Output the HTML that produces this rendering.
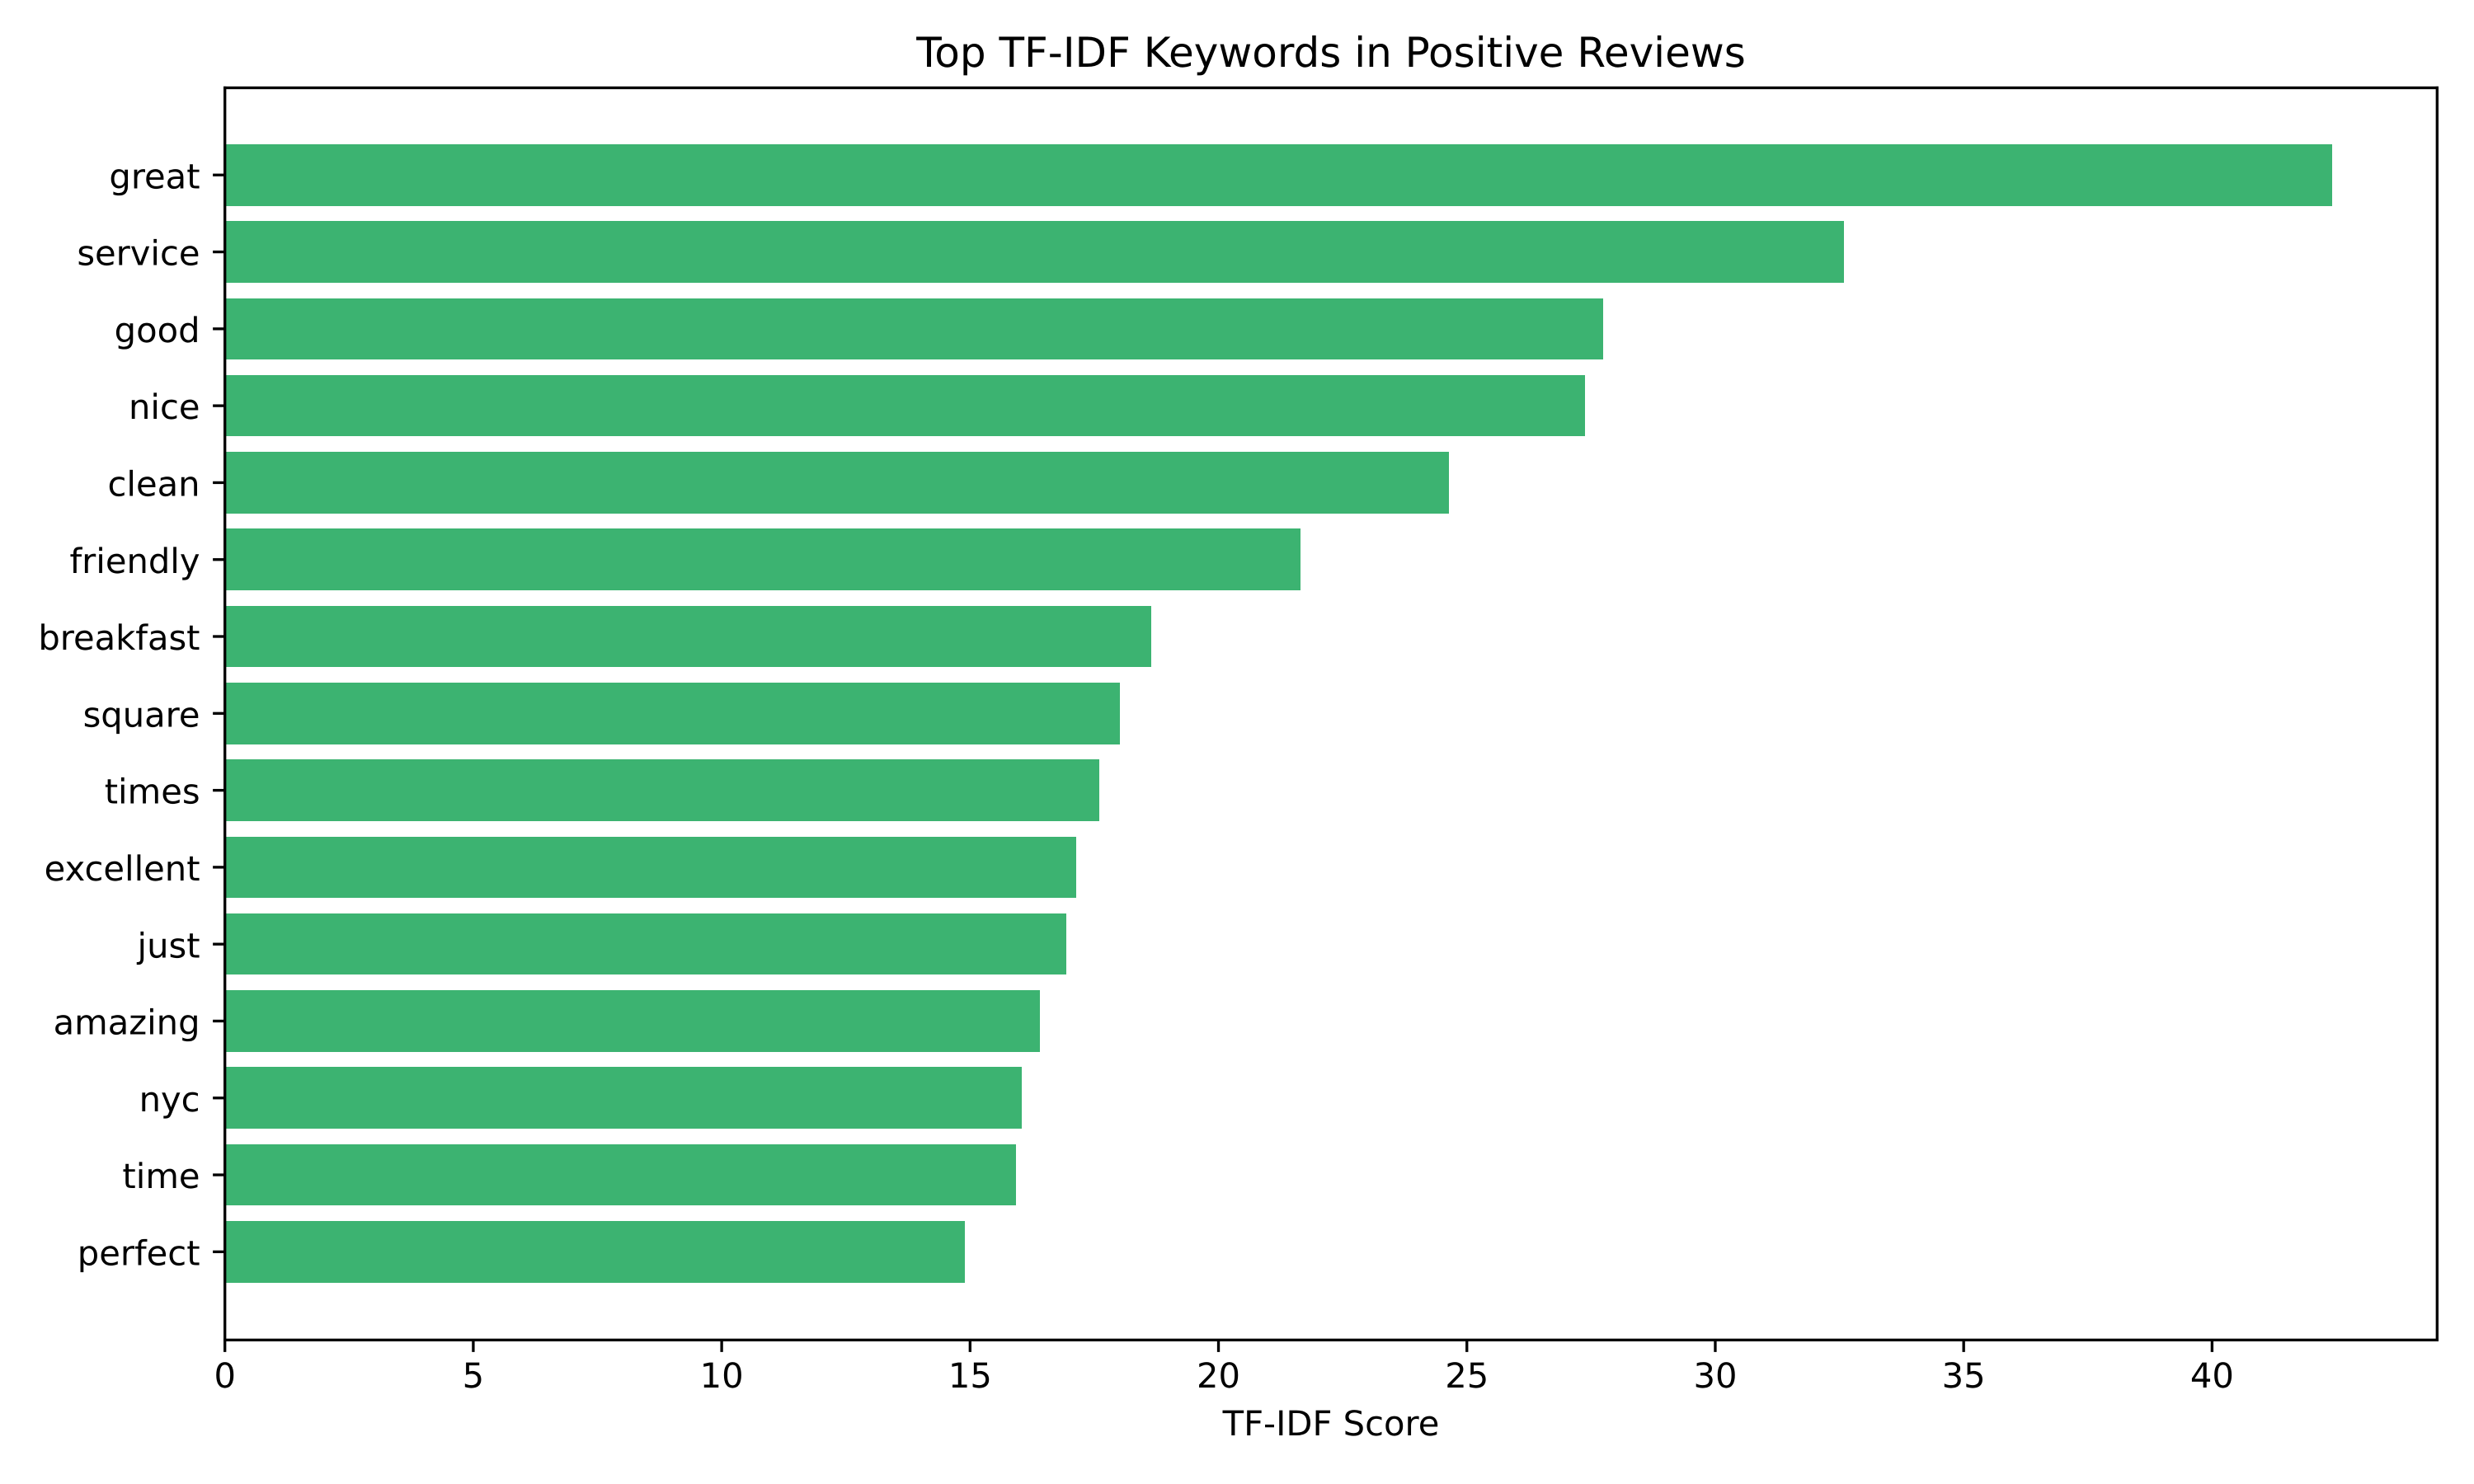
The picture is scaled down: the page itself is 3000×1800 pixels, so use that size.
<!DOCTYPE html>
<html lang="en">
<head>
<meta charset="utf-8">
<title>Top TF-IDF Keywords in Positive Reviews</title>
<style>
html,body{margin:0;padding:0;background:#fff;}
body{width:3000px;height:1800px;overflow:hidden;}
svg{display:block;}
text{font-family:"DejaVu Sans",sans-serif;fill:#000;text-rendering:geometricPrecision;}
</style>
</head>
<body>
<svg id="chart" xmlns="http://www.w3.org/2000/svg" width="3000" height="1800" viewBox="0 0 3000 1800">
<rect x="0" y="0" width="3000" height="1800" fill="#fff"/>
<g id="bars"></g>
<g id="y-axis"></g>
<g id="x-axis"></g>
<g id="spines">
<rect x="271.04" y="104.84" width="3.33" height="1522.16" fill="#000"/>
<rect x="2953.64" y="104.84" width="3.33" height="1522.16" fill="#000"/>
<rect x="271.04" y="104.84" width="2685.93" height="3.33" fill="#000"/>
<rect x="271.04" y="1623.67" width="2685.93" height="3.33" fill="#000"/>
</g>
<text x="1614" y="81" font-size="50" text-anchor="middle">Top TF-IDF Keywords in Positive Reviews</text>
<text x="1614" y="1741" font-size="41.67" text-anchor="middle">TF-IDF Score</text>
</svg>
<script>
const categories = ["great","service","good","nice","clean","friendly","breakfast","square","times","excellent","just","amazing","nyc","time","perfect"];
const scores = [42.41,32.59,27.74,27.37,24.64,21.65,18.65,18.02,17.60,17.14,16.94,16.41,16.04,15.92,14.90];
const xTicks = [0,5,10,15,20,25,30,35,40];

const SVG_NS = "http://www.w3.org/2000/svg";
const PLOT_LEFT = 272.7, PLOT_RIGHT = 2955.3, PLOT_TOP = 106.5, PLOT_BOTTOM = 1625.3;
const BAR_HEIGHT = 0.8;
const TICK_LEN = 14.58, TICK_W = 3.33, TICK_PAD = 14.58;

const xMax = Math.max(...scores) * 1.05;
const yMin = -0.4 - 0.74;
const yMax = categories.length - 1 + 0.4 + 0.74;

function xScale(v) {
  return PLOT_LEFT + (v / xMax) * (PLOT_RIGHT - PLOT_LEFT);
}
function yScale(i) {
  return PLOT_TOP + ((i - yMin) / (yMax - yMin)) * (PLOT_BOTTOM - PLOT_TOP);
}
function make(tag, attrs) {
  const el = document.createElementNS(SVG_NS, tag);
  for (const k in attrs) el.setAttribute(k, attrs[k]);
  return el;
}

const barsGroup = document.getElementById("bars");
const yGroup = document.getElementById("y-axis");
const xGroup = document.getElementById("x-axis");

categories.forEach(function (name, i) {
  const top = Math.round(yScale(i - BAR_HEIGHT / 2) - 0.6);
  const bottom = Math.round(yScale(i + BAR_HEIGHT / 2) - 0.6);
  const right = Math.round(xScale(scores[i]));

  const bar = make("rect", {x: xScale(0), y: top, width: right - xScale(0), height: bottom - top, fill: "#3CB371"});
  
  
  barsGroup.appendChild(bar);

  const cy = yScale(i);
  const tick = make("rect", {x: PLOT_LEFT - TICK_LEN, y: cy - TICK_W / 2 - 0.6, width: TICK_LEN, height: TICK_W, fill: "#000"});
  
  
  yGroup.appendChild(tick);

  const label = make("text", {x: PLOT_LEFT - TICK_LEN - TICK_PAD - 1, y: cy + 15.5, "font-size": 41.67, "text-anchor": "end"});
  
  
  label.textContent = name;
  yGroup.appendChild(label);
});

xTicks.forEach(function (v) {
  const x = xScale(v);
  const tick = make("rect", {x: x - TICK_W / 2, y: PLOT_BOTTOM, width: TICK_W, height: TICK_LEN, fill: "#000"});
  
  
  xGroup.appendChild(tick);

  const label = make("text", {x: x, y: 1683, "font-size": 41.67, "text-anchor": "middle"});
  
  
  label.textContent = String(v);
  xGroup.appendChild(label);
});
</script>
</body>
</html>
